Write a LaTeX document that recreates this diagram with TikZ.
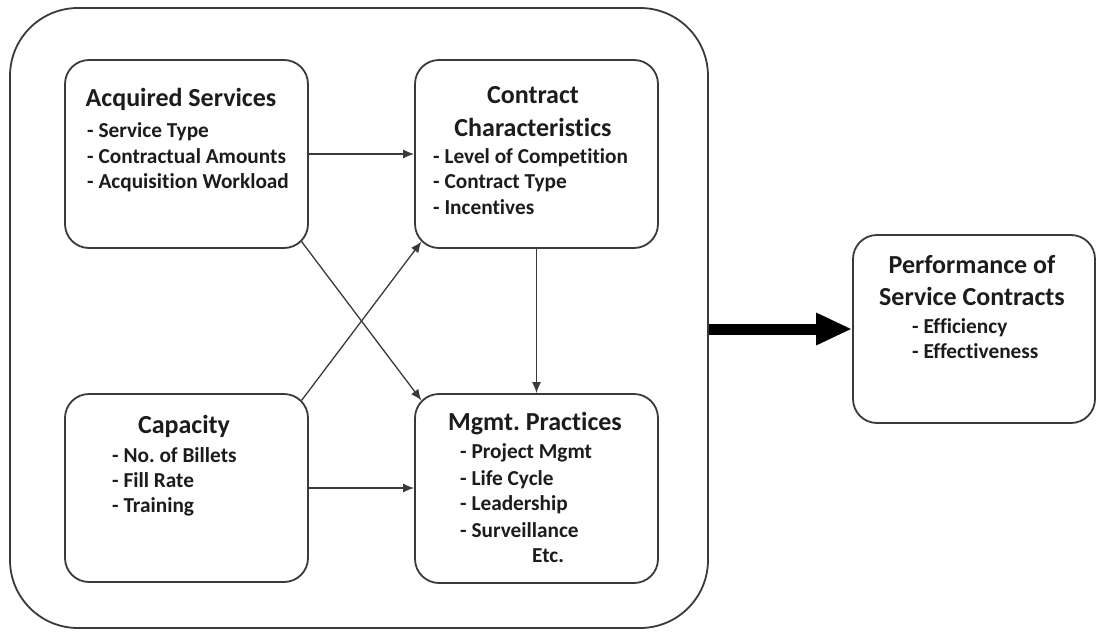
\documentclass[tikz,border=0pt]{standalone}
\usepackage{fontspec}
\setmainfont{Carlito}[Ligatures={NoCommon}]
\frenchspacing
\usetikzlibrary{arrows.meta,calc}
\definecolor{linegray}{HTML}{3A3A3A}
\definecolor{txt}{HTML}{1C1C1C}
\begin{document}
\begin{tikzpicture}[x=1pt,y=-1pt,
  box/.style={draw=linegray, line width=1.8pt, rounded corners=24pt, inner sep=0pt},
  ttl/.style={anchor=base, inner sep=0pt, font=\bfseries\fontsize{26}{30}\selectfont, text=txt},
  itm/.style={anchor=base west, inner sep=0pt, font=\bfseries\fontsize{21.3}{25}\selectfont, text=txt},
  arr/.style={draw=linegray, line width=1.3pt, -{Latex[length=11pt,width=9pt]}},
  bigarr/.style={draw=black, line width=11pt, -{Triangle[length=36pt,width=30pt]}}
]
\fill[white] (0,0) rectangle (1101,632);
\useasboundingbox (0,0) rectangle (1101,632);

% outer frame
\node[box, rounded corners=68pt, minimum width=698pt, minimum height=620pt] (outer) at (359,318) {};

% boxes
\node[box, minimum width=243pt, minimum height=188pt] (acq) at (186.5,154) {};
\node[box, minimum width=243pt, minimum height=188pt] (con) at (536.5,154) {};
\node[box, minimum width=243pt, minimum height=188pt] (cap) at (186.5,488) {};
\node[box, minimum width=243pt, minimum height=189pt] (mgmt) at (536.5,488.5) {};
\node[box, minimum width=242pt, minimum height=188pt] (perf) at (974,329) {};

% texts: Acquired Services
\node[ttl] (acqT) at (181,106) {Acquired Services};
\node[itm] (acq1) at (87,137) {- Service Type};
\node[itm] (acq2) at (87,163) {- Contractual Amounts};
\node[itm] (acq3) at (87,188) {- Acquisition Workload};

% Contract Characteristics
\node[ttl] (conT1) at (533,103) {Contract};
\node[ttl] (conT2) at (533,136) {Characteristics};
\node[itm] (con1) at (433,163) {- Level of Competition};
\node[itm] (con2) at (433,188) {- Contract Type};
\node[itm] (con3) at (433,214) {- Incentives};

% Capacity
\node[ttl] (capT) at (184,433) {Capacity};
\node[itm] (cap1) at (112,462) {- No. of Billets};
\node[itm] (cap2) at (112,487) {- Fill Rate};
\node[itm] (cap3) at (112,512) {- Training};

% Mgmt. Practices
\node[ttl] (mgmtT) at (535,430) {Mgmt. Practices};
\node[itm] (mg1) at (460,458) {- Project Mgmt};
\node[itm] (mg2) at (460,485) {- Life Cycle};
\node[itm] (mg3) at (460,510) {- Leadership};
\node[itm] (mg4) at (460,537) {- Surveillance};
\node[itm] (mg5) at (532,562) {Etc.};

% Performance
\node[ttl] (perfT1) at (972,273) {Performance of};
\node[ttl] (perfT2) at (972,305) {Service Contracts};
\node[itm] (perf1) at (912,333) {- Efficiency};
\node[itm] (perf2) at (912,358) {- Effectiveness};

% connectors
\draw[arr] (acq.east) -- (acq.east -| con.west);
\draw[arr] (cap.east) -- (cap.east -| mgmt.west);
\draw[arr] (con.south) -- (mgmt.north);
\draw[arr] ($(acq.south east)+(-7.3,-7.3)$) -- ($(mgmt.north west)+(7.3,7.3)$);
\draw[arr] ($(cap.north east)+(-7.3,7.3)$) -- ($(con.south west)+(7.3,-7.3)$);
\draw[bigarr] (perf.west -| outer.east) -- (perf.west);
\end{tikzpicture}
\end{document}
